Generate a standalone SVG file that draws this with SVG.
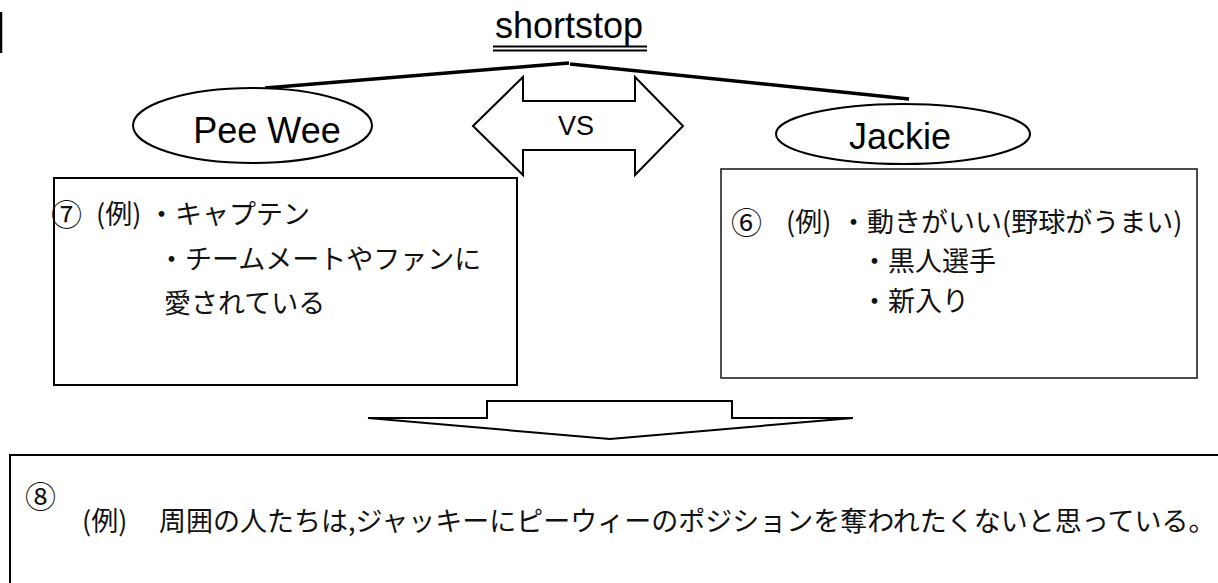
<svg xmlns="http://www.w3.org/2000/svg" width="1218" height="583" viewBox="0 0 1218 583">
<style>
.en{font-family:"Liberation Sans",Arial,sans-serif;fill:#000}
.jp{font-family:"Noto Sans CJK JP","Noto Sans",sans-serif;fill:#111;font-size:27px}
.num{font-size:31px}
.shape{fill:#fff;stroke:#000;stroke-width:2}
.conn{stroke:#000;stroke-width:3.5;fill:none}
</style>
<rect width="1218" height="583" fill="#fff"/>
<line x1="1" y1="12" x2="1" y2="53" stroke="#000" stroke-width="2.5"/>
<g id="title">
<text class="en" x="569" y="38" font-size="36" text-anchor="middle">shortstop</text>
<line x1="493" y1="46.5" x2="647" y2="46.5" stroke="#000" stroke-width="2"/>
<line x1="493" y1="50.5" x2="647" y2="50.5" stroke="#000" stroke-width="2"/>
</g>
<g id="connectors">
<line class="conn" x1="265" y1="88" x2="569" y2="63"/>
<line class="conn" x1="570" y1="64" x2="909" y2="99"/>
</g>
<g id="peewee">
<ellipse class="shape" cx="252.5" cy="125.5" rx="119.5" ry="37.5"/>
<text class="en" x="267" y="143" font-size="36" text-anchor="middle">Pee Wee</text>
</g>
<g id="vs">
<polygon class="shape" points="473,126 523,77 523,101 635,101 635,77 683,126 635,175 635,150 523,150 523,175"/>
<text class="en" x="576" y="135" font-size="27" text-anchor="middle">VS</text>
</g>
<g id="jackie">
<ellipse class="shape" cx="903" cy="134" rx="127" ry="30"/>
<text class="en" x="900" y="149" font-size="36" text-anchor="middle">Jackie</text>
</g>
<g id="peewee-box">
<rect class="shape" x="54" y="178" width="463" height="207"/>
<text class="jp"><tspan class="num" x="51" y="226">⑦</tspan><tspan x="96" y="224">(例)</tspan><tspan x="148" y="224">・キャプテン</tspan></text>
<text class="jp" x="158" y="269">・チームメートやファンに</text>
<text class="jp" x="164" y="313">愛されている</text>
</g>
<g id="jackie-box">
<rect x="721" y="169" width="476" height="209" fill="#fff" stroke="#222" stroke-width="1.6"/>
<text class="jp"><tspan class="num" x="731" y="234">⑥</tspan><tspan x="786" y="232">(例)</tspan><tspan x="840" y="232">・動きがいい(野球がうまい)</tspan></text>
<text class="jp" x="861" y="271">・黒人選手</text>
<text class="jp" x="861" y="311">・新入り</text>
</g>
<g id="down-arrow">
<polygon class="shape" points="487,401 732,401 732,418 853,418 610,439 368,418 487,418"/>
</g>
<g id="conclusion-box">
<path d="M1219,455 H10 V584" fill="#fff" stroke="#000" stroke-width="2"/>
<text class="jp num" x="25" y="508">⑧</text>
<text class="jp" font-size="26.7"><tspan x="82" y="531">(例)</tspan><tspan x="159" y="531">周囲の人たちは,ジャッキーにピーウィーのポジションを奪われたくないと思っている。</tspan></text>
</g>
</svg>
